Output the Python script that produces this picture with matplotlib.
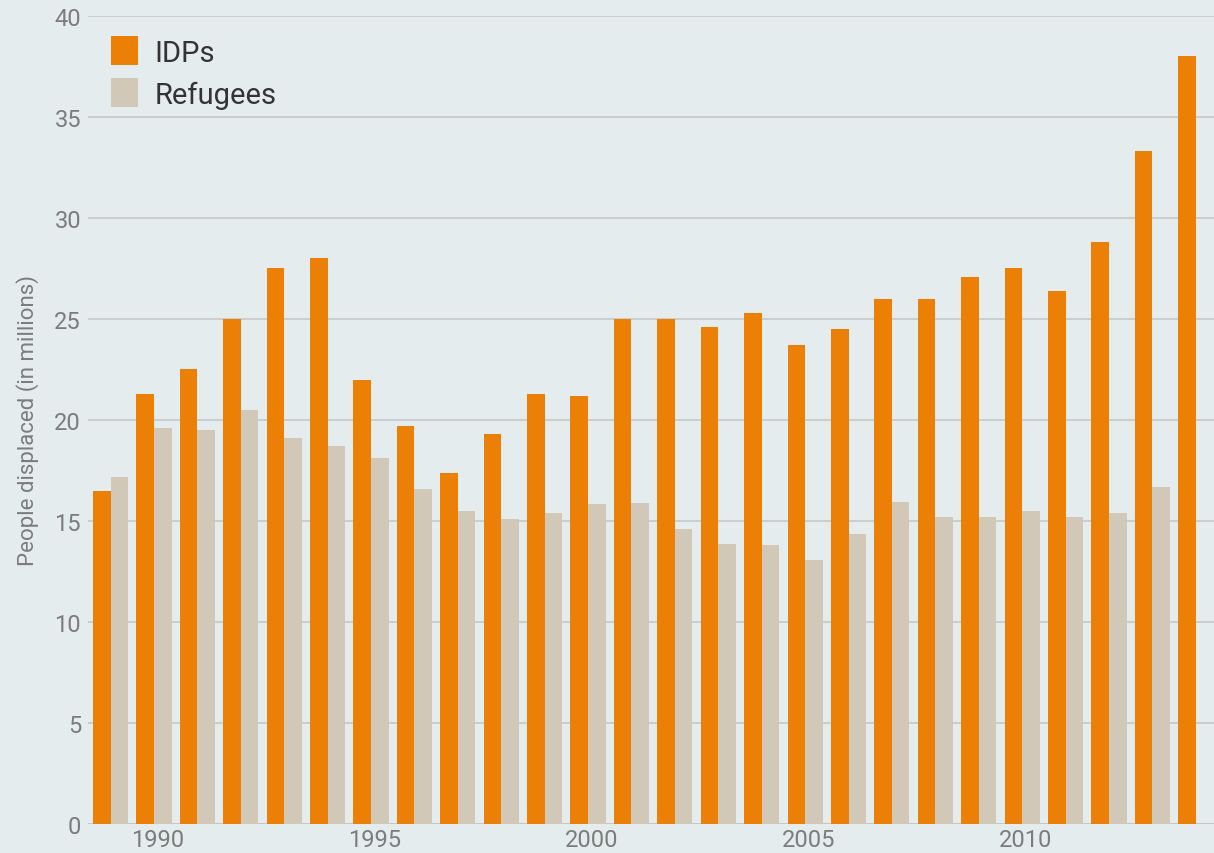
import matplotlib
matplotlib.use("Agg")
import matplotlib.pyplot as plt
import numpy as np

years = list(range(1989, 2015))
idps = [16.5, 21.3, 22.5, 25.0, 27.5, 28.0, 22.0, 19.7, 17.4, 19.3, 21.3, 21.2,
        25.0, 25.0, 24.6, 25.3, 23.7, 24.5, 26.0, 26.0, 27.1, 27.5, 26.4, 28.8,
        33.3, 38.0]
refugees = [17.2, 19.6, 19.5, 20.5, 19.1, 18.7, 18.1, 16.6, 15.5, 15.1, 15.4, 15.85,
            15.9, 14.6, 13.85, 13.8, 13.05, 14.35, 15.95, 15.2, 15.2, 15.5, 15.2, 15.4,
            16.7, np.nan]
xtick_years = [1990, 1995, 2000, 2005, 2010]
yticks = [0, 5, 10, 15, 20, 25, 30, 35, 40]

plt.rcParams['font.family'] = ['Roboto', 'Liberation Sans', 'DejaVu Sans']

bg = '#E5ECEE'
c_idp = '#EC8006'
c_ref = '#D2C8B8'
gray = '#7C7C7C'

fig = plt.figure(figsize=(12.14, 8.54), dpi=100, facecolor=bg)
ax = fig.add_axes([88/1214, 29/854, 1 - 88/1214, (825-17)/854])
ax.set_facecolor(bg)

x = np.array(years, dtype=float)
w = 0.405
ax.bar(x - w/2, idps, width=w, color=c_idp, label='IDPs', zorder=3)
ax.bar(x + w/2, refugees, width=w, color=c_ref, label='Refugees', zorder=3)

ax.set_ylim(0, 40)
ax.set_xlim(1988.48, 2014.42)
ax.set_yticks(yticks)
ax.set_xticks([y + 0.08 for y in xtick_years])
ax.set_xticklabels([str(y) for y in xtick_years])
ax.yaxis.grid(True, color='#C6C8C8', linewidth=1.2, zorder=0)
ax.axhline(0, color='#C6C8C8', linewidth=2, zorder=2)
for s in ax.spines.values():
    s.set_visible(False)
ax.tick_params(axis='both', length=0, labelsize=17, labelcolor=gray)
ax.tick_params(axis='y', pad=5)
ax.tick_params(axis='x', pad=3)
ax.set_ylabel('People displaced (in millions)', fontsize=16, color=gray, labelpad=11)

leg = ax.legend(loc='upper left', bbox_to_anchor=(0.002, 1.0), frameon=False,
                prop={'size': 21, 'family': ['Roboto', 'DejaVu Sans']},
                handlelength=0.95, handleheight=1.15, labelspacing=0.4,
                handletextpad=0.55, borderaxespad=0.3)
for t in leg.get_texts():
    t.set_color('#333333')

fig.savefig('out.png', dpi=100, facecolor=bg)
